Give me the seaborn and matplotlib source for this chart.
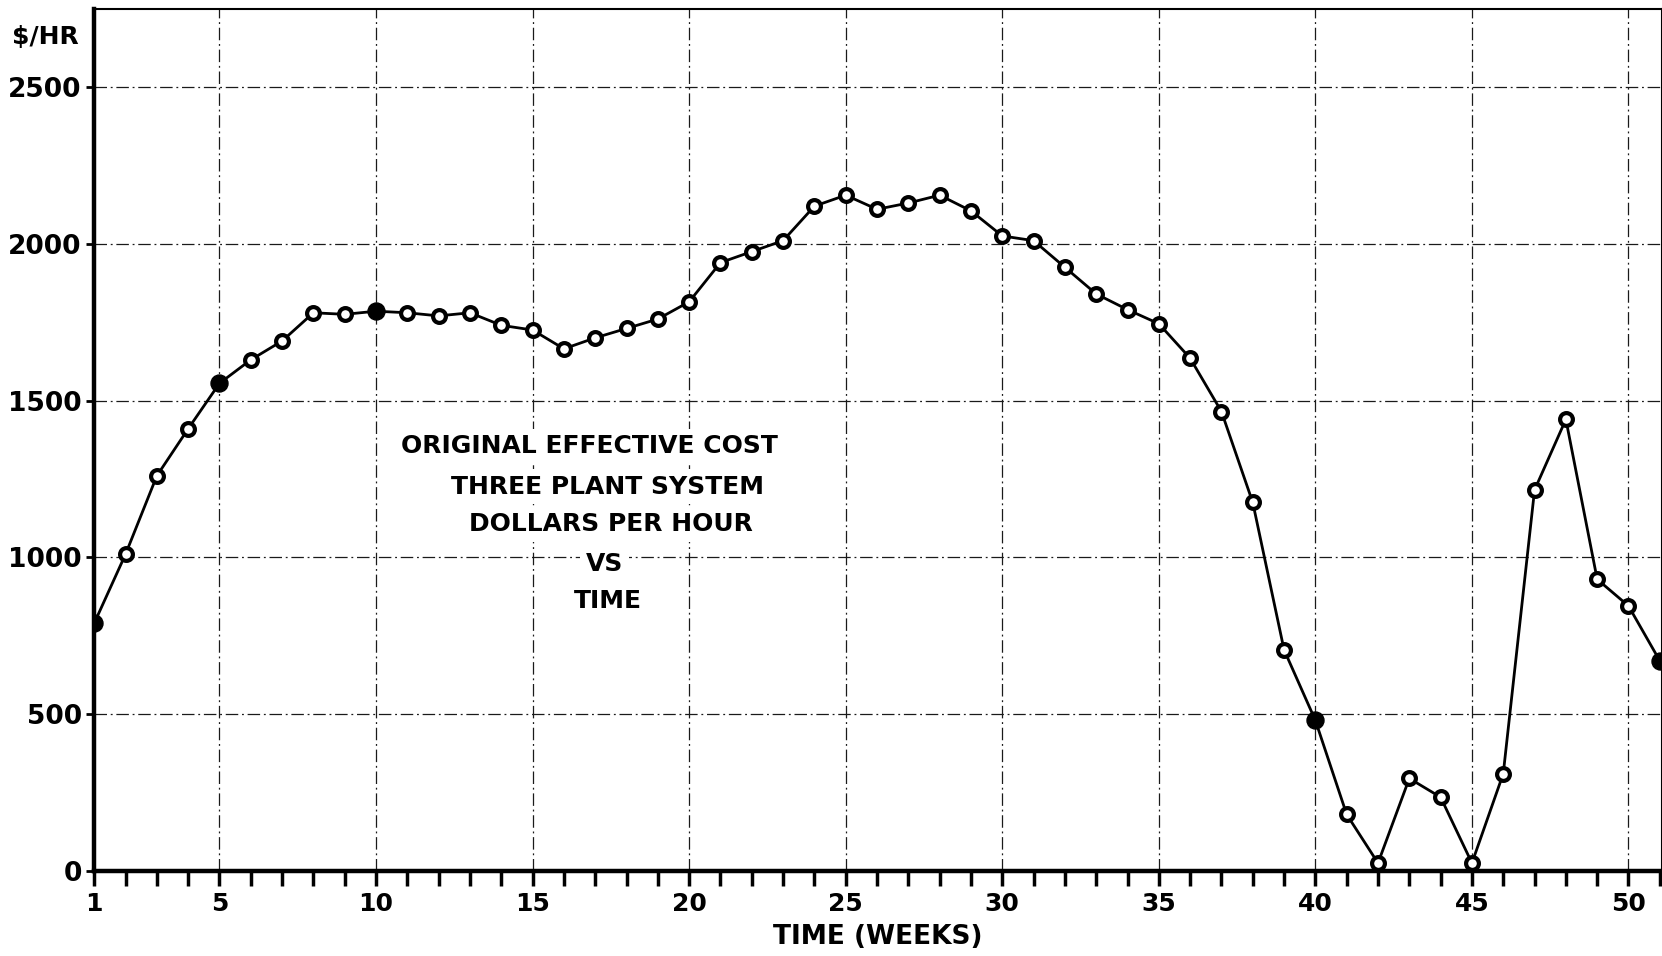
import pandas as pd
import matplotlib.pyplot as plt
import numpy as np
import seaborn as sns
from matplotlib.ticker import FixedLocator, MultipleLocator

# weekly effective cost
weeks = list(range(1, 52))
cost = [790, 1010, 1260, 1410, 1555, 1630, 1690, 1780, 1775, 1785,
        1780, 1770, 1780, 1740, 1725, 1665, 1700, 1730, 1760, 1815,
        1940, 1975, 2010, 2120, 2155, 2110, 2130, 2155, 2105, 2025,
        2010, 1925, 1840, 1790, 1745, 1635, 1465, 1175, 705, 480,
        180, 25, 295, 235, 25, 310, 1215, 1440, 930, 845,
        670]
solid_weeks = [1, 5, 10, 40, 51]   # points drawn as filled dots

x_ticks = [1, 5, 10, 15, 20, 25, 30, 35, 40, 45, 50]
y_ticks = [0, 500, 1000, 1500, 2000, 2500]
caption = ["ORIGINAL EFFECTIVE COST", "THREE PLANT SYSTEM",
           "DOLLARS PER HOUR", "VS", "TIME"]

df = pd.DataFrame({"week": weeks, "cost": cost})
df["solid"] = df["week"].isin(solid_weeks)

sns.set_style("white")
plt.rcParams['font.family'] = ['DejaVu Sans']
plt.rcParams['text.color'] = 'black'
plt.rcParams['axes.labelcolor'] = 'black'
plt.rcParams['xtick.color'] = 'black'
plt.rcParams['ytick.color'] = 'black'

fig = plt.figure(figsize=(16.62, 9.56), dpi=100)
ax = fig.add_axes([0.0567, 0.089, 0.9433, 0.902])

# grid (dash-dot like the drafting paper)
grid_style = dict(color="#1a1a1a", lw=0.9, ls=(0, (10, 3, 1.5, 3)), zorder=1)
for gx in x_ticks[1:]:
    ax.axvline(gx, **grid_style)
for gy in y_ticks[1:]:
    ax.axhline(gy, **grid_style)

sns.lineplot(data=df, x="week", y="cost", ax=ax, color="black", lw=2.0,
             zorder=3, legend=False)
sns.scatterplot(data=df[~df["solid"]], x="week", y="cost", ax=ax, s=85,
                facecolor="white", edgecolor="black", linewidth=3.0, zorder=4)
sns.scatterplot(data=df[df["solid"]], x="week", y="cost", ax=ax, s=150,
                color="black", edgecolor="black", zorder=4)

ax.set_xlim(1, 51.07)
ax.set_ylim(0, 2750)

ax.xaxis.set_major_locator(FixedLocator(x_ticks))
ax.xaxis.set_minor_locator(MultipleLocator(1))
ax.yaxis.set_major_locator(FixedLocator(y_ticks))
ax.tick_params(axis="x", which="both", direction="out", length=11, width=2.5,
               labelsize=18, pad=4, bottom=True)
ax.tick_params(axis="y", which="major", direction="out", length=6, width=2,
               labelsize=19, pad=3, left=True)
for lab in ax.get_xticklabels() + ax.get_yticklabels():
    lab.set_fontweight("bold")

for side in ["left", "bottom"]:
    ax.spines[side].set_linewidth(3.2)
    ax.spines[side].set_color("black")
for side in ["top", "right"]:
    ax.spines[side].set_linewidth(1.5)
    ax.spines[side].set_color("black")

ax.set_xlabel("TIME (WEEKS)", fontsize=19, fontweight="bold", labelpad=6)
ax.set_ylabel("")
ax.text(-0.010, 2660, "$/HR", transform=ax.get_yaxis_transform(),
        ha="right", va="center", fontsize=18, fontweight="bold")

# chart caption in the middle, white box breaks the grid
caption_x = [16.8, 17.4, 17.5, 17.3, 17.4]
caption_y = [1355, 1225, 1105, 980, 860]
for cx, cy, txt in zip(caption_x, caption_y, caption):
    ax.text(cx, cy, txt, ha="center", va="center", fontsize=18,
            fontweight="bold", zorder=5,
            bbox=dict(facecolor="white", edgecolor="none", pad=4))

plt.savefig("out.png", dpi=100)
